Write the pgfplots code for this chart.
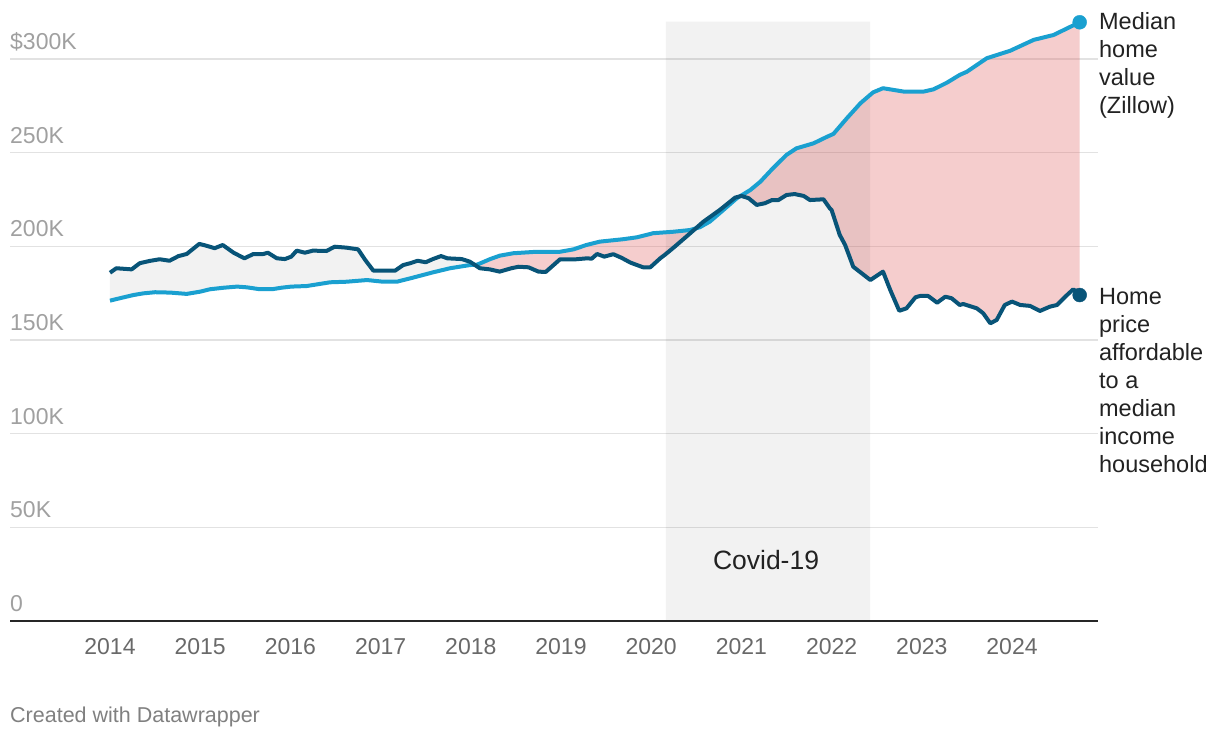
\documentclass[border=0pt]{standalone}
\usepackage{fontspec}
\setmainfont{Liberation Sans}
\usepackage{pgfplots}
\pgfplotsset{compat=1.18}
\usepgfplotslibrary{fillbetween}
\definecolor{zil}{RGB}{26,160,208}
\definecolor{aff}{RGB}{8,84,120}
\definecolor{pinkf}{RGB}{224,102,102}
\definecolor{gridc}{RGB}{226,226,226}
\definecolor{ylab}{RGB}{160,160,160}
\definecolor{xlab}{RGB}{105,105,105}
\definecolor{txt}{RGB}{34,34,34}
\definecolor{credit}{RGB}{128,128,128}
\begin{document}
\begin{tikzpicture}
\begin{axis}[
  at={(0pt,0pt)}, anchor=south west,
  scale only axis, width=1088pt, height=599.47pt,
  xmin=2012.8914, xmax=2024.9534, ymin=0, ymax=320,
  axis line style={draw=none},
  clip=false,
  major tick length=0pt,
  ytick={0,50,100,150,200,250,300},
  yticklabels={0,50K,100K,150K,200K,250K,\$300K},
  ymajorgrids, grid style={gridc, line width=1.5pt},
  xtick={2014,2015,2016,2017,2018,2019,2020,2021,2022,2023,2024},
  xticklabels={2014,2015,2016,2017,2018,2019,2020,2021,2022,2023,2024},
  /pgf/number format/assume math mode=true,
  yticklabel style={anchor=base west, inner sep=0pt, xshift=0pt, yshift=9.5pt,
    font=\fontsize{23}{27}\selectfont, text=ylab},
  xticklabel style={anchor=base, inner sep=0pt, yshift=-33.5pt,
    font=\fontsize{23}{27}\selectfont, text=xlab},
]
% Covid shading
\addplot[draw=none, fill=black, fill opacity=0.05] coordinates {(2020.164,0) (2020.164,320) (2022.426,320) (2022.426,0)} \closedcycle;

\addplot[name path=zil, draw=none, forget plot] coordinates {
(2014.00,171.0)(2014.11,172.3)(2014.26,174.0)(2014.37,174.9)(2014.50,175.5)(2014.67,175.3)(2014.85,174.6)(2015.00,175.8)(2015.11,177.1)(2015.26,177.9)(2015.41,178.5)(2015.52,178.1)(2015.66,177.1)(2015.81,177.2)(2015.90,177.9)(2016.01,178.5)(2016.18,178.8)(2016.44,180.8)(2016.62,181.1)(2016.85,182.0)(2017.03,181.1)(2017.18,181.1)(2017.36,183.3)(2017.58,186.1)(2017.77,188.3)(2017.99,190.0)(2018.07,190.2)(2018.21,193.1)(2018.32,195.0)(2018.47,196.3)(2018.73,197.1)(2018.99,197.1)(2019.14,198.4)(2019.28,200.7)(2019.43,202.5)(2019.69,203.8)(2019.84,204.8)(2019.99,206.6)(2020.02,207.0)(2020.25,207.8)(2020.43,208.7)(2020.54,210.2)(2020.65,213.2)(2020.80,219.4)(2020.95,225.7)(2021.10,230.1)(2021.21,234.5)(2021.35,241.7)(2021.50,248.8)(2021.61,252.3)(2021.80,255.0)(2021.95,258.5)(2022.02,260.0)(2022.17,268.4)(2022.32,276.4)(2022.46,282.2)(2022.57,284.4)(2022.80,282.6)(2023.02,282.6)(2023.13,283.8)(2023.28,287.4)(2023.42,291.5)(2023.50,293.2)(2023.72,300.4)(2023.98,304.4)(2024.24,310.2)(2024.46,312.8)(2024.75,319.6)
};
\addplot[name path=aff, draw=none, forget plot] coordinates {
(2014.00,185.9)(2014.07,188.3)(2014.24,187.7)(2014.33,191.0)(2014.44,192.2)(2014.55,193.1)(2014.66,192.3)(2014.76,194.8)(2014.85,195.9)(2014.99,201.3)(2015.07,200.3)(2015.16,199.0)(2015.25,200.7)(2015.37,196.6)(2015.49,193.6)(2015.59,195.9)(2015.70,195.9)(2015.75,196.6)(2015.85,193.6)(2015.94,193.2)(2016.01,194.5)(2016.07,197.7)(2016.16,196.6)(2016.25,197.7)(2016.40,197.5)(2016.49,199.8)(2016.62,199.3)(2016.75,198.4)(2016.83,192.7)(2016.92,187.0)(2017.16,187.0)(2017.25,190.0)(2017.33,191.0)(2017.41,192.3)(2017.50,191.5)(2017.58,193.2)(2017.67,194.8)(2017.74,193.6)(2017.90,193.2)(2017.99,191.8)(2018.10,188.3)(2018.21,187.7)(2018.32,186.5)(2018.45,188.3)(2018.53,189.1)(2018.64,188.8)(2018.75,186.5)(2018.83,186.3)(2018.99,193.1)(2019.17,193.1)(2019.29,193.6)(2019.34,193.4)(2019.40,195.9)(2019.48,194.5)(2019.58,195.8)(2019.67,193.9)(2019.77,191.3)(2019.91,188.8)(2019.99,188.8)(2020.10,193.6)(2020.15,195.4)(2020.26,199.8)(2020.39,205.2)(2020.58,213.2)(2020.76,219.4)(2020.93,226.0)(2021.00,226.9)(2021.08,225.7)(2021.17,222.1)(2021.26,223.0)(2021.34,224.7)(2021.41,224.7)(2021.50,227.4)(2021.59,227.9)(2021.69,226.9)(2021.76,224.7)(2021.91,225.1)(2021.98,220.3)(2022.00,219.4)(2022.09,206.1)(2022.15,200.7)(2022.24,189.1)(2022.43,182.0)(2022.57,186.5)(2022.65,176.7)(2022.75,165.6)(2022.83,166.9)(2022.93,172.8)(2022.98,173.5)(2023.07,173.5)(2023.17,169.9)(2023.26,173.1)(2023.33,172.3)(2023.42,168.7)(2023.46,169.2)(2023.61,166.9)(2023.68,164.3)(2023.76,158.9)(2023.83,160.7)(2023.92,168.7)(2024.00,170.5)(2024.09,168.7)(2024.20,168.2)(2024.31,165.5)(2024.42,167.8)(2024.50,168.7)(2024.59,173.1)(2024.68,177.1)(2024.75,174.0)
};
% fills between
\addplot[draw=none, fill=black, fill opacity=0.05] fill between[of=aff and zil, soft clip={domain=2014:2018.07}];
\addplot[draw=none, fill=black, fill opacity=0.05] fill between[of=aff and zil, soft clip={domain=2020.47:2020.95}];
\addplot[draw=none, fill=pinkf, fill opacity=0.33] fill between[of=aff and zil, soft clip={domain=2018.07:2020.47}];
\addplot[draw=none, fill=pinkf, fill opacity=0.33] fill between[of=aff and zil, soft clip={domain=2020.95:2024.75}];

% lines
\addplot[zil, line width=4pt, line join=round] coordinates {
(2014.00,171.0)(2014.11,172.3)(2014.26,174.0)(2014.37,174.9)(2014.50,175.5)(2014.67,175.3)(2014.85,174.6)(2015.00,175.8)(2015.11,177.1)(2015.26,177.9)(2015.41,178.5)(2015.52,178.1)(2015.66,177.1)(2015.81,177.2)(2015.90,177.9)(2016.01,178.5)(2016.18,178.8)(2016.44,180.8)(2016.62,181.1)(2016.85,182.0)(2017.03,181.1)(2017.18,181.1)(2017.36,183.3)(2017.58,186.1)(2017.77,188.3)(2017.99,190.0)(2018.07,190.2)(2018.21,193.1)(2018.32,195.0)(2018.47,196.3)(2018.73,197.1)(2018.99,197.1)(2019.14,198.4)(2019.28,200.7)(2019.43,202.5)(2019.69,203.8)(2019.84,204.8)(2019.99,206.6)(2020.02,207.0)(2020.25,207.8)(2020.43,208.7)(2020.54,210.2)(2020.65,213.2)(2020.80,219.4)(2020.95,225.7)(2021.10,230.1)(2021.21,234.5)(2021.35,241.7)(2021.50,248.8)(2021.61,252.3)(2021.80,255.0)(2021.95,258.5)(2022.02,260.0)(2022.17,268.4)(2022.32,276.4)(2022.46,282.2)(2022.57,284.4)(2022.80,282.6)(2023.02,282.6)(2023.13,283.8)(2023.28,287.4)(2023.42,291.5)(2023.50,293.2)(2023.72,300.4)(2023.98,304.4)(2024.24,310.2)(2024.46,312.8)(2024.75,319.6)
};
\addplot[aff, line width=4pt, line join=round] coordinates {
(2014.00,185.9)(2014.07,188.3)(2014.24,187.7)(2014.33,191.0)(2014.44,192.2)(2014.55,193.1)(2014.66,192.3)(2014.76,194.8)(2014.85,195.9)(2014.99,201.3)(2015.07,200.3)(2015.16,199.0)(2015.25,200.7)(2015.37,196.6)(2015.49,193.6)(2015.59,195.9)(2015.70,195.9)(2015.75,196.6)(2015.85,193.6)(2015.94,193.2)(2016.01,194.5)(2016.07,197.7)(2016.16,196.6)(2016.25,197.7)(2016.40,197.5)(2016.49,199.8)(2016.62,199.3)(2016.75,198.4)(2016.83,192.7)(2016.92,187.0)(2017.16,187.0)(2017.25,190.0)(2017.33,191.0)(2017.41,192.3)(2017.50,191.5)(2017.58,193.2)(2017.67,194.8)(2017.74,193.6)(2017.90,193.2)(2017.99,191.8)(2018.10,188.3)(2018.21,187.7)(2018.32,186.5)(2018.45,188.3)(2018.53,189.1)(2018.64,188.8)(2018.75,186.5)(2018.83,186.3)(2018.99,193.1)(2019.17,193.1)(2019.29,193.6)(2019.34,193.4)(2019.40,195.9)(2019.48,194.5)(2019.58,195.8)(2019.67,193.9)(2019.77,191.3)(2019.91,188.8)(2019.99,188.8)(2020.10,193.6)(2020.15,195.4)(2020.26,199.8)(2020.39,205.2)(2020.58,213.2)(2020.76,219.4)(2020.93,226.0)(2021.00,226.9)(2021.08,225.7)(2021.17,222.1)(2021.26,223.0)(2021.34,224.7)(2021.41,224.7)(2021.50,227.4)(2021.59,227.9)(2021.69,226.9)(2021.76,224.7)(2021.91,225.1)(2021.98,220.3)(2022.00,219.4)(2022.09,206.1)(2022.15,200.7)(2022.24,189.1)(2022.43,182.0)(2022.57,186.5)(2022.65,176.7)(2022.75,165.6)(2022.83,166.9)(2022.93,172.8)(2022.98,173.5)(2023.07,173.5)(2023.17,169.9)(2023.26,173.1)(2023.33,172.3)(2023.42,168.7)(2023.46,169.2)(2023.61,166.9)(2023.68,164.3)(2023.76,158.9)(2023.83,160.7)(2023.92,168.7)(2024.00,170.5)(2024.09,168.7)(2024.20,168.2)(2024.31,165.5)(2024.42,167.8)(2024.50,168.7)(2024.59,173.1)(2024.68,177.1)(2024.75,174.0)
};
% end dots
\addplot[only marks, mark=*, mark size=7pt, zil] coordinates {(2024.75,319.6)};
\addplot[only marks, mark=*, mark size=7pt, aff] coordinates {(2024.75,174.0)};

% baseline
\draw[black!85, line width=2pt] (rel axis cs:0,0) -- (rel axis cs:1,0);

% labels
\node[anchor=center, text=txt, font=\fontsize{26.5}{30}\selectfont] at (axis cs:2021.273,32.56) {Covid-19};
\node[anchor=base west, inner sep=0pt, text=txt, font=\fontsize{23.5}{28}\selectfont] at (axis cs:2024.964,315.75)
  {\begin{tabular}[t]{@{}l@{}}Median\\home\\value\\(Zillow)\end{tabular}};
\node[anchor=base west, inner sep=0pt, text=txt, font=\fontsize{23.5}{28}\selectfont] at (axis cs:2024.964,168.95)
  {\begin{tabular}[t]{@{}l@{}}Home\\price\\affordable\\to a\\median\\income\\household\end{tabular}};
\end{axis}
\node[anchor=base west, inner sep=0pt, text=credit, font=\fontsize{21.5}{25}\selectfont] at (0pt,-101.5pt) {Created with Datawrapper};
\path (-10pt,-117pt) rectangle (1210pt,621pt);
\end{tikzpicture}
\end{document}
